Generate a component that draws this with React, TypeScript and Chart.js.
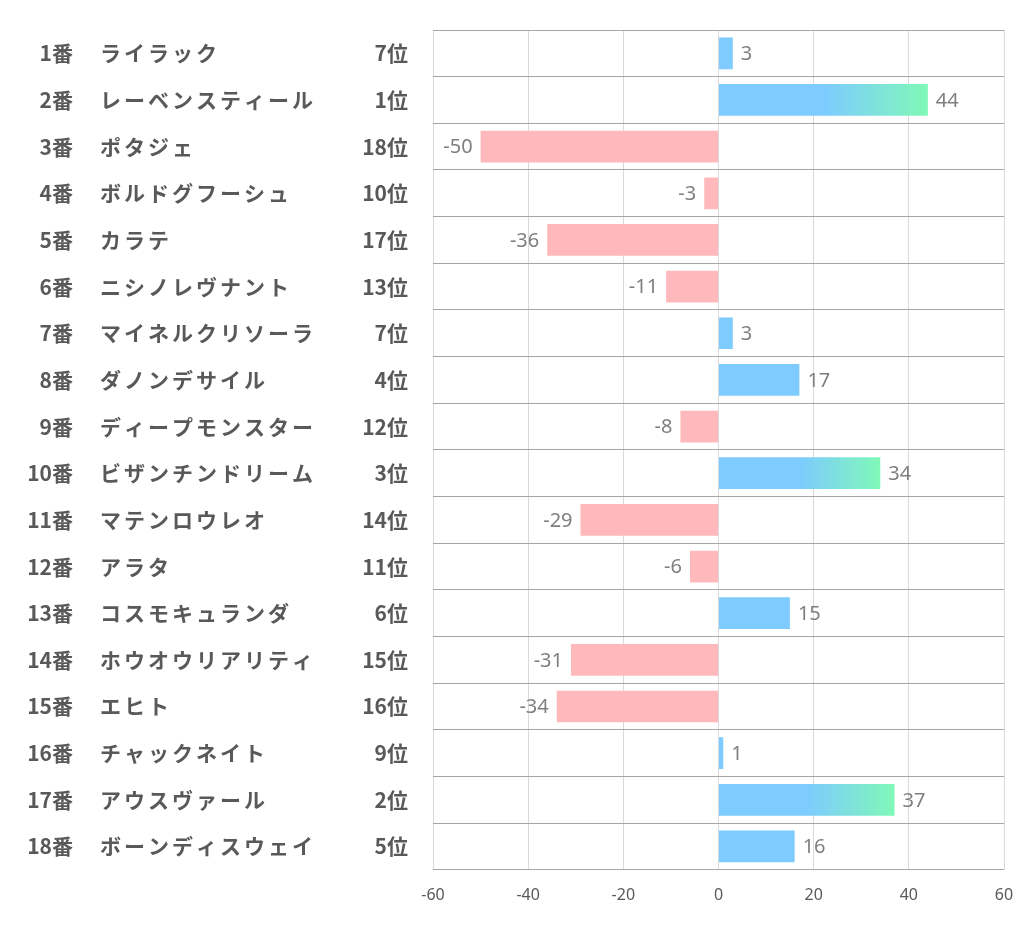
import React, { useEffect, useRef } from "react";
import { Chart, registerables } from "chart.js";

Chart.register(...registerables);

const numbers = ["1番", "2番", "3番", "4番", "5番", "6番", "7番", "8番", "9番", "10番", "11番", "12番", "13番", "14番", "15番", "16番", "17番", "18番"];
const names = ["ライラック", "レーベンスティール", "ポタジェ", "ボルドグフーシュ", "カラテ", "ニシノレヴナント", "マイネルクリソーラ", "ダノンデサイル", "ディープモンスター", "ビザンチンドリーム", "マテンロウレオ", "アラタ", "コスモキュランダ", "ホウオウリアリティ", "エヒト", "チャックネイト", "アウスヴァール", "ボーンディスウェイ"];
const ranks = ["7位", "1位", "18位", "10位", "17位", "13位", "7位", "4位", "12位", "3位", "14位", "11位", "6位", "15位", "16位", "9位", "2位", "5位"];
const values = [3, 44, -50, -3, -36, -11, 3, 17, -8, 34, -29, -6, 15, -31, -34, 1, 37, 16];
const xTicks = [-60, -40, -20, 0, 20, 40, 60];

const BLUE = "#7DCBFF";
const GREEN = "#80F8B8";
const PINK = "#FFB9BD";

export default function App() {
  const ref = useRef<HTMLCanvasElement | null>(null);
  useEffect(() => {
    const canvas = ref.current!;
    const labelsPlugin = {
      id: "leftLabels",
      afterDraw(chart: any) {
        const ctx = chart.ctx;
        const y = chart.scales.y;
        ctx.save();
        ctx.fillStyle = "#595959";
        ctx.textBaseline = "middle";
        ctx.font = "bold 21px 'Noto Sans CJK JP'";
        for (let i = 0; i < names.length; i++) {
          const py = y.getPixelForValue(i);
          ctx.letterSpacing = "0px";
          ctx.textAlign = "right";
          ctx.fillText(numbers[i], 73, py);
          ctx.fillText(ranks[i], 408, py);
          ctx.letterSpacing = "3px";
          ctx.textAlign = "left";
          ctx.fillText(names[i], 100, py);
        }
        ctx.restore();
      },
      afterDatasetsDraw(chart: any) {
        const ctx = chart.ctx;
        const meta = chart.getDatasetMeta(0);
        ctx.save();
        ctx.fillStyle = "#7F7F7F";
        ctx.font = "20px 'Noto Sans'";
        ctx.textBaseline = "middle";
        meta.data.forEach((el: any, i: number) => {
          const v = values[i];
          if (v >= 0) {
            ctx.textAlign = "left";
            ctx.fillText(String(v), el.x + 8, el.y + 1);
          } else {
            ctx.textAlign = "right";
            ctx.fillText(String(v), el.x - 8, el.y + 1);
          }
        });
        ctx.restore();
      },
    };
    const chart = new Chart(canvas, {
      type: "bar",
      data: {
        labels: names,
        datasets: [
          {
            data: values,
            backgroundColor: (c: any) => {
              const v = c.raw as number;
              if (v < 0) return PINK;
              if (v >= 30) {
                const xs = c.chart.scales.x;
                if (!xs) return BLUE;
                const x0 = xs.getPixelForValue(0);
                const x1 = xs.getPixelForValue(v);
                const g = c.chart.ctx.createLinearGradient(x0, 0, x1, 0);
                g.addColorStop(0, BLUE);
                g.addColorStop(0.5, BLUE);
                g.addColorStop(1, GREEN);
                return g;
              }
              return BLUE;
            },
            borderWidth: 0,
            barPercentage: 0.68,
            categoryPercentage: 1,
          },
        ],
      },
      options: {
        indexAxis: "y",
        animation: false,
        responsive: false,
        maintainAspectRatio: false,
        layout: { padding: { left: 433, right: 18, top: 30, bottom: 18 } },
        plugins: { legend: { display: false }, tooltip: { enabled: false } },
        scales: {
          x: {
            type: "linear",
            min: -60,
            max: 60,
            afterBuildTicks: (axis: any) => {
              axis.ticks = xTicks.map((v) => ({ value: v }));
            },
            afterFit: (axis: any) => {
              axis.paddingLeft = 0;
              axis.paddingRight = 0;
            },
            grid: { color: "#D9D9D9", lineWidth: 1, drawTicks: false },
            border: { display: false },
            ticks: {
              color: "#595959",
              font: { size: 16, family: "'Noto Sans'" },
              padding: 16,
              maxRotation: 0,
            },
          },
          y: {
            grid: { color: "#A6A6A6", lineWidth: 1, offset: true, drawTicks: false },
            border: { display: false },
            ticks: { display: false },
          },
        },
      },
      plugins: [labelsPlugin],
    });
    return () => chart.destroy();
  }, []);
  return (
    <div style={{ position: "fixed", left: 0, top: 0, width: 1022, height: 939, background: "#fff" }}>
      <canvas ref={ref} width={1022} height={939} style={{ width: 1022, height: 939 }} />
    </div>
  );
}
